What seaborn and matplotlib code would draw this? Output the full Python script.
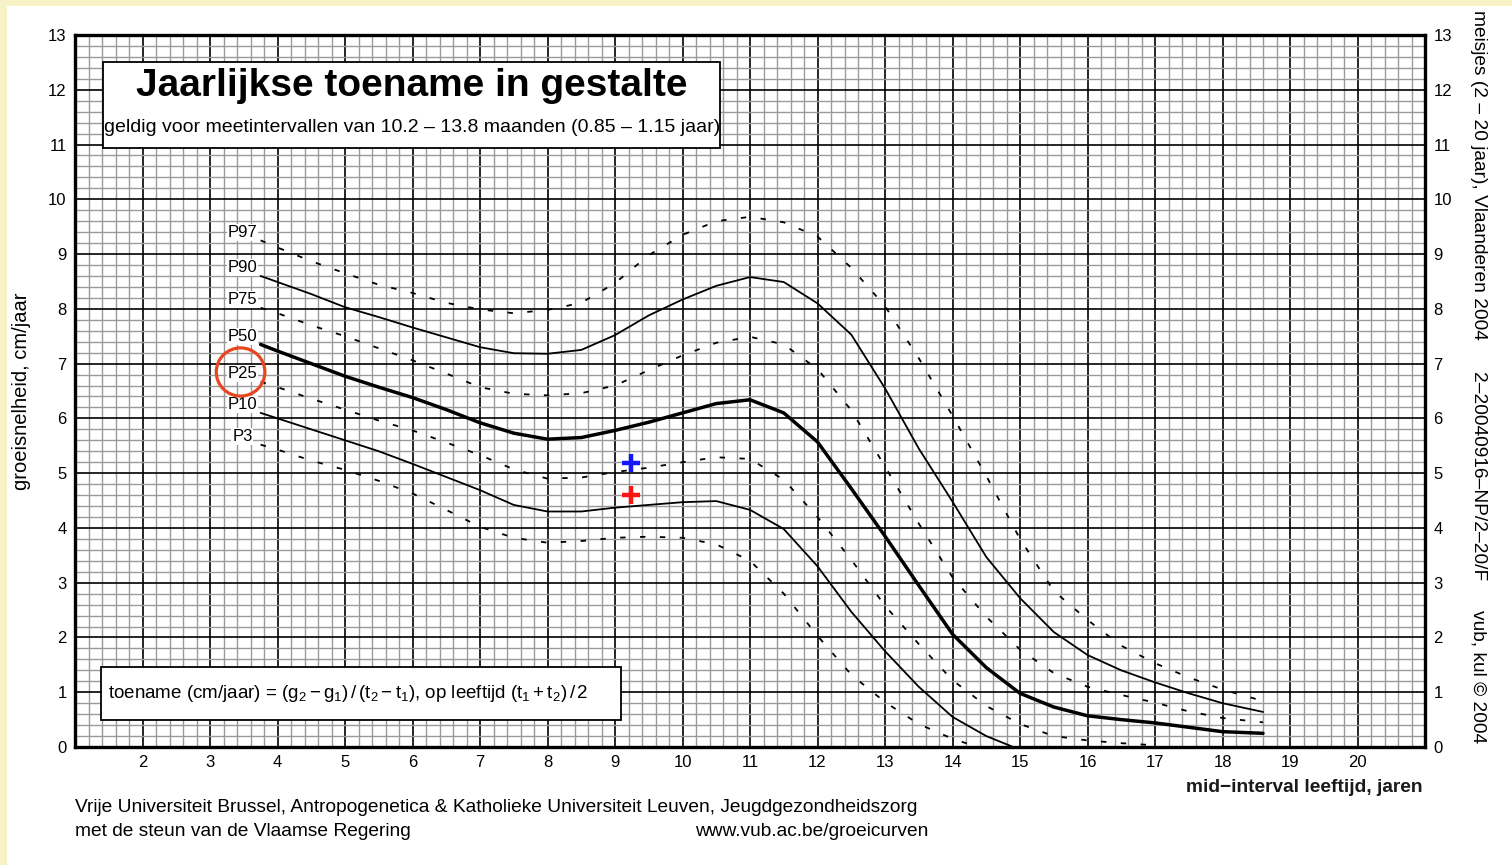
import numpy as np
import pandas as pd
import seaborn as sns
import matplotlib.pyplot as plt
from matplotlib.patches import Rectangle, Ellipse
from matplotlib.ticker import MultipleLocator

# data (age in years, growth velocity cm/year)
ages = [3.75, 4.0, 4.5, 5.0, 5.5, 6.0, 6.5, 7.0, 7.5, 8.0, 8.5, 9.0, 9.5, 10.0, 10.5,
        11.0, 11.5, 12.0, 12.5, 13.0, 13.5, 14.0, 14.5, 15.0, 15.5, 16.0, 16.5, 17.0,
        17.5, 18.0, 18.6]
nan = np.nan
p97 = [9.25, 9.12, 8.87, 8.65, 8.44, 8.29, 8.11, 7.99, 7.92, 7.98, 8.11, 8.47, 8.98, 9.35,
       9.6, 9.68, 9.58, 9.32, 8.75, 8.05, 7.1, 6.05, 4.95, 3.8, 2.85, 2.32, 1.85, 1.53,
       1.27, 1.05, 0.84]
p90 = [8.6, 8.49, 8.27, 8.03, 7.85, 7.66, 7.48, 7.3, 7.19, 7.18, 7.25, 7.52, 7.88, 8.17,
       8.42, 8.58, 8.49, 8.1, 7.53, 6.55, 5.45, 4.48, 3.47, 2.72, 2.1, 1.68, 1.4, 1.18,
       0.98, 0.8, 0.64]
p75 = [8.02, 7.92, 7.7, 7.5, 7.28, 7.06, 6.82, 6.57, 6.45, 6.42, 6.46, 6.6, 6.88, 7.15,
       7.38, 7.49, 7.35, 6.9, 6.15, 5.12, 4.08, 3.1, 2.38, 1.78, 1.35, 1.1, 0.95, 0.81,
       0.65, 0.53, 0.45]
p50 = [7.35, 7.23, 7.0, 6.77, 6.57, 6.38, 6.16, 5.92, 5.73, 5.62, 5.65, 5.78, 5.93, 6.1,
       6.27, 6.34, 6.1, 5.57, 4.72, 3.85, 2.95, 2.06, 1.45, 0.98, 0.73, 0.57, 0.5, 0.44,
       0.36, 0.28, 0.25]
p25 = [6.67, 6.57, 6.36, 6.16, 5.96, 5.78, 5.56, 5.33, 5.07, 4.9, 4.92, 5.02, 5.1, 5.2,
       5.29, 5.26, 4.88, 4.2, 3.42, 2.58, 1.88, 1.22, 0.75, 0.42, 0.2, 0.12, 0.07, 0.03,
       nan, nan, nan]
p10 = [6.1, 6.0, 5.8, 5.6, 5.4, 5.17, 4.93, 4.69, 4.42, 4.3, 4.3, 4.37, 4.42, 4.47,
       4.49, 4.33, 3.98, 3.3, 2.47, 1.75, 1.1, 0.55, 0.2, -0.05, nan, nan, nan, nan,
       nan, nan, nan]
p3 = [5.52, 5.43, 5.23, 5.06, 4.86, 4.63, 4.33, 4.02, 3.82, 3.73, 3.76, 3.82, 3.84, 3.82,
      3.7, 3.4, 2.8, 2.03, 1.32, 0.82, 0.42, 0.15, -0.05, nan, nan, nan, nan, nan,
      nan, nan, nan]

curve_names = ['P97', 'P90', 'P75', 'P50', 'P25', 'P10', 'P3']
curve_values = [p97, p90, p75, p50, p25, p10, p3]

# the two measurements (plus markers)
meas_age = [9.24, 9.24]
meas_val = [5.19, 4.60]
meas_col = ['#1414ff', '#ff1414']

x_ticks = list(range(2, 21))
y_ticks = list(range(0, 14))

sns.set_theme(style='white')
plt.rcParams['font.family'] = ['Liberation Sans', 'DejaVu Sans']
plt.rcParams['text.color'] = 'black'
plt.rcParams['mathtext.fontset'] = 'custom'
plt.rcParams['mathtext.rm'] = 'Liberation Sans'
plt.rcParams['mathtext.it'] = 'Liberation Sans'
plt.rcParams['mathtext.bf'] = 'Liberation Sans:bold'

fig = plt.figure(figsize=(15.12, 8.65), dpi=100)
fig.patch.set_facecolor('#f8f3c6')
W, H = 1512, 865
fig.add_artist(Rectangle((7 / W, 0), 1, 1 - 6 / H, transform=fig.transFigure,
                         facecolor='white', edgecolor='none', zorder=-10))

ax = fig.add_axes([75 / W, 118 / H, 1350 / W, 712 / H])
ax.set_xlim(1, 21)
ax.set_ylim(0, 13)

ax.set_xticks(range(1, 22))
ax.set_xticklabels(['' if v not in x_ticks else str(v) for v in range(1, 22)])
ax.set_yticks(y_ticks)
ax.xaxis.set_minor_locator(MultipleLocator(0.2))
ax.yaxis.set_minor_locator(MultipleLocator(0.2))
ax.grid(which='minor', color='#9a9a9a', lw=1.0)
ax.grid(which='major', color='black', lw=1.2)
ax.set_axisbelow(True)
ax.tick_params(which='both', length=0, labelsize=12, labelright=True, pad=6,
               labelcolor='black')
for s in ax.spines.values():
    s.set_visible(True)
    s.set_color('black')
    s.set_linewidth(2.4)

df = pd.DataFrame({'age': ages})
for name, vals in zip(curve_names, curve_values):
    df[name] = vals

styles = {
    'P97': dict(lw=1.3, ls=(0, (3, 8))),
    'P90': dict(lw=1.3, ls='-'),
    'P75': dict(lw=1.3, ls=(0, (3, 8))),
    'P50': dict(lw=2.5, ls='-'),
    'P25': dict(lw=1.3, ls=(0, (3, 8))),
    'P10': dict(lw=1.3, ls='-'),
    'P3': dict(lw=1.3, ls=(0, (3, 8))),
}
for name in curve_names:
    d = df[['age', name]].dropna()
    sns.lineplot(data=d, x='age', y=name, ax=ax, color='black',
                 linewidth=styles[name]['lw'], linestyle=styles[name]['ls'], zorder=3)
    # percentile label just above the start of the curve
    ax.text(3.48, d[name].iloc[0] + 0.15, name, ha='center', va='center', fontsize=12,
            zorder=4, bbox=dict(boxstyle='square,pad=0.05', fc='white', ec='none'))
ax.set_xlabel('')
ax.set_ylabel('')

for a, v, c in zip(meas_age, meas_val, meas_col):
    sns.scatterplot(x=[a], y=[v], ax=ax, marker='+', s=180, linewidth=3.2, color=c, zorder=5)

# red circle around the P25 label
ax.add_patch(Ellipse((3.453, 6.847), 0.72, 0.88, fill=False, ec='#e8461e', lw=2.3, zorder=6))

# title box
fig.add_artist(Rectangle((103 / W, 1 - 148 / H), 617 / W, 86 / H, transform=fig.transFigure,
                         facecolor='white', edgecolor='black', lw=1.3, zorder=5))
fig.text(412 / W, 1 - 86 / H, 'Jaarlijkse toename in gestalte', ha='center', va='center',
         fontsize=28, fontweight='bold', zorder=6)
fig.text(412 / W, 1 - 127 / H,
         'geldig voor meetintervallen van 10.2 \u2013 13.8 maanden (0.85 \u2013 1.15 jaar)',
         ha='center', va='center', fontsize=14, zorder=6)

# formula box
fig.add_artist(Rectangle((101 / W, 1 - 720 / H), 520 / W, 53 / H, transform=fig.transFigure,
                         facecolor='white', edgecolor='black', lw=1.3, zorder=5))
fig.text(108 / W, 1 - 693 / H,
         r'toename (cm/jaar) = $\mathrm{(g_2 - g_1)\,/\,(t_2 - t_1)}$, op leeftijd $\mathrm{(t_1 + t_2)\,/\,2}$',
         ha='left', va='center', fontsize=13.5, zorder=6)

# axis titles
fig.text(22 / W, 1 - 391 / H, 'groeisnelheid, cm/jaar', rotation=90, ha='center',
         va='center', fontsize=14.5)
fig.text(1423 / W, 1 - 787 / H, 'mid\u2212interval leeftijd, jaren', ha='right',
         va='center', fontsize=13.8, fontweight='bold', color='#1a1a1a')

# right side vertical texts
fig.text(1478 / W, 1 - 10 / H, 'meisjes (2 \u2013 20 jaar), Vlaanderen 2004', rotation=270,
         ha='center', va='top', fontsize=13.8)
fig.text(1478 / W, 1 - 372 / H, '2\u201320040916\u2013NP/2\u201320/F', rotation=270,
         ha='center', va='top', fontsize=13.8)
fig.text(1478 / W, 1 - 610 / H, 'vub, kul \u00a9 2004', rotation=270,
         ha='center', va='top', fontsize=13.8)

# footer
fig.text(75 / W, 1 - 808 / H,
         'Vrije Universiteit Brussel, Antropogenetica & Katholieke Universiteit Leuven, Jeugdgezondheidszorg',
         ha='left', va='center', fontsize=13.8)
fig.text(75 / W, 1 - 831 / H, 'met de steun van de Vlaamse Regering', ha='left',
         va='center', fontsize=13.8)
fig.text(928 / W, 1 - 831 / H, 'www.vub.ac.be/groeicurven', ha='right', va='center',
         fontsize=13.8)

fig.savefig('out.png', dpi=100, facecolor=fig.get_facecolor())
